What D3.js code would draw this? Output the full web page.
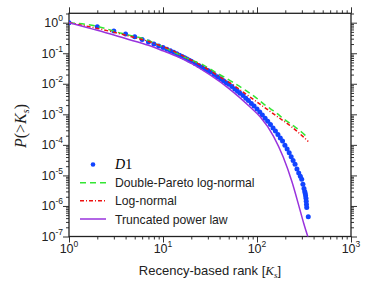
<!DOCTYPE html>
<html>
<head>
<meta charset="utf-8">
<script src="https://cdn.jsdelivr.net/npm/d3@7"></script>
<style>
  body { margin: 0; background: #fff; }
  svg { display: block; font-family: "Liberation Sans", Arial, sans-serif; }
</style>
</head>
<body>
<svg id="chart" width="374" height="299"></svg>
<script>
const d1Rank = [1, 2, 3, 4, 5, 6, 7, 8, 9, 10, 11, 12, 13, 14, 15, 16, 17, 18, 19, 20,
  22, 24, 26, 28, 30, 32, 35, 38, 41, 44, 47, 50, 54, 58, 62, 66, 71, 76, 81, 87, 93,
  100, 107, 114, 122, 130, 139, 148, 157, 167, 177, 187, 198, 209, 220, 231, 242, 254,
  266, 278, 289, 299, 308, 316, 322, 326, 329, 332, 334, 336, 338, 351];
const d1P = [1, 0.74, 0.535, 0.427, 0.348, 0.282, 0.232, 0.2, 0.174, 0.153, 0.1355, 0.12,
  0.107, 0.0955, 0.0861, 0.0785, 0.0711, 0.0649, 0.0594, 0.0547,
  0.0463, 0.0398, 0.0348, 0.0305, 0.0271, 0.0242, 0.0202, 0.017, 0.0146, 0.0126, 0.0109,
  0.0097, 0.00809, 0.00676, 0.00572, 0.00492, 0.0041, 0.00337, 0.00281, 0.00228, 0.00186,
  0.00148, 0.0012, 9.5e-4, 7.4e-4, 5.9e-4, 4.6e-4, 3.6e-4, 2.83e-4, 2.18e-4, 1.68e-4,
  1.33e-4, 9.8e-5, 7.3e-5, 5.5e-5, 4.1e-5, 3.1e-5, 2.3e-5, 1.62e-5, 1.2e-5, 9.3e-6,
  7.5e-6, 5.1e-6, 3.7e-6, 2.96e-6, 2.57e-6, 2.14e-6, 1.79e-6, 1.43e-6, 1.11e-6, 8.9e-7, 4.4e-7];

// fitted models
const dplnRank = [1, 2, 3.6, 6.4, 8.2, 14.5, 20, 27, 34, 44, 58, 75, 95, 122, 155, 200, 253, 324, 338];
const dplnP = [1, 0.76, 0.449, 0.286, 0.211, 0.0942, 0.0598, 0.041, 0.0267, 0.017, 0.0103,
  0.00621, 0.00375, 0.002, 0.00121, 6.46e-4, 3.89e-4, 2.08e-4, 1.83e-4];

const lnRank = [1, 2, 3.76, 7.3, 11.9, 19.4, 31.6, 40.4, 56, 74.5, 99.3, 132, 176, 234, 311, 351];
const lnP = [1, 0.65, 0.41, 0.233, 0.132, 0.0621, 0.0271, 0.0166, 0.00906, 0.00484, 0.00257,
  0.00137, 7.3e-4, 3.89e-4, 1.83e-4, 1.29e-4];

const tplRank = [1, 2, 4, 7, 10, 14, 20, 32, 50, 85, 108, 150, 190, 235, 285, 315, 355];
const tplP = [1, 0.562, 0.302, 0.182, 0.12, 0.0794, 0.0468, 0.0191, 0.00708, 0.0017, 8.3e-4,
  1.91e-4, 3.98e-5, 6.3e-6, 7.9e-7, 2.6e-7, 8e-8];

const xTickExp = [0, 1, 2, 3];
const yTickExp = [0, -1, -2, -3, -4, -5, -6, -7];
const legendLabels = ["D1", "Double-Pareto log-normal", "Log-normal", "Truncated power law"];

const colors = { d1: "#1144ff", dpln: "#33e633", ln: "#ee1111", tpl: "#9933dd" };

const svg = d3.select("#chart");
const plotLeft = 69, plotRight = 351, plotTop = 13.3, plotBottom = 236.5;

const x = d3.scaleLog().domain([1, 1000]).range([plotLeft, plotRight]);
const y = d3.scaleLog().domain([1e-7, 2.03]).range([plotBottom, plotTop]);

const xMajor = xTickExp.map((e) => Math.pow(10, e));
const yMajor = yTickExp.map((e) => Math.pow(10, e));
const minorOf = (majors) => {
  const out = [];
  majors.forEach((m) => { for (let k = 2; k <= 9; k++) out.push(m * k); });
  return out;
};
const xMinor = minorOf(xMajor).filter((v) => v < 1000);
const yMinor = minorOf(yMajor).filter((v) => v < 2.03);

// axes, ticks outward on all four sides
function addAxis(axisFn, scale, values, size, transform) {
  const g = svg.append("g")
    .attr("transform", transform)
    .call(axisFn(scale).tickValues(values).tickSize(size).tickFormat(""));
  g.select(".domain").remove();
  g.selectAll("line").attr("stroke", "#333").attr("stroke-width", 1);
}
[[xMajor, 6], [xMinor, 3]].forEach(([v, s]) => {
  addAxis(d3.axisBottom, x, v, s, `translate(0,${plotBottom})`);
  addAxis(d3.axisTop, x, v, s, `translate(0,${plotTop})`);
});
[[yMajor, 6], [yMinor, 3]].forEach(([v, s]) => {
  addAxis(d3.axisLeft, y, v, s, `translate(${plotLeft},0)`);
  addAxis(d3.axisRight, y, v, s, `translate(${plotRight},0)`);
});

// tick labels with superscripts
const xl = svg.append("g").selectAll("text").data(xTickExp).join("text")
  .attr("x", (e) => x(Math.pow(10, e)))
  .attr("y", 253)
  .attr("text-anchor", "middle")
  .attr("font-size", 12.5)
  .attr("fill", "#222");
xl.append("tspan").text("10");
xl.append("tspan").attr("dy", -6).attr("font-size", 8.5).text((e) => String(e));

const yl = svg.append("g").selectAll("text").data(yTickExp).join("text")
  .attr("x", 63)
  .attr("y", (e) => y(Math.pow(10, e)) + 4.5)
  .attr("text-anchor", "end")
  .attr("font-size", 12.5)
  .attr("fill", "#222");
yl.append("tspan").text("10");
yl.append("tspan").attr("dy", -6).attr("font-size", 8.5).text((e) => String(e));

// frame
svg.append("rect")
  .attr("x", plotLeft).attr("y", plotTop)
  .attr("width", plotRight - plotLeft).attr("height", plotBottom - plotTop)
  .attr("fill", "none").attr("stroke", "#222").attr("stroke-width", 1.3);

// plot
svg.append("clipPath").attr("id", "clip").append("rect")
  .attr("x", plotLeft).attr("y", plotTop)
  .attr("width", plotRight - plotLeft).attr("height", plotBottom - plotTop);
const plot = svg.append("g").attr("clip-path", "url(#clip)");

const d1 = d1Rank.map((k, i) => [k, d1P[i]]);
plot.selectAll("circle.d1").data(d1).join("circle")
  .attr("class", "d1")
  .attr("cx", (d) => x(d[0]))
  .attr("cy", (d) => y(d[1]))
  .attr("r", 2.5)
  .attr("fill", colors.d1);

const line = d3.line().x((d) => x(d[0])).y((d) => y(d[1])).curve(d3.curveMonotoneX);

function drawLine(ranks, vals, color, dash) {
  plot.append("path")
    .datum(ranks.map((k, i) => [k, vals[i]]))
    .attr("fill", "none")
    .attr("stroke", color)
    .attr("stroke-width", 1.5)
    .attr("stroke-dasharray", dash)
    .attr("d", line);
}
drawLine(dplnRank, dplnP, colors.dpln, "6,4");
drawLine(lnRank, lnP, colors.ln, "4,2,1,2");
drawLine(tplRank, tplP, colors.tpl, null);

// legend
const legY = [164.5, 182.7, 200.7, 219];
const leg = svg.append("g");
leg.append("circle").attr("cx", 93).attr("cy", legY[0]).attr("r", 2.3).attr("fill", colors.d1);
[[colors.dpln, "6,4"], [colors.ln, "4,2,1,2"], [colors.tpl, null]].forEach(([c, dash], i) => {
  leg.append("line")
    .attr("x1", 80).attr("x2", 106)
    .attr("y1", legY[i + 1]).attr("y2", legY[i + 1])
    .attr("stroke", c).attr("stroke-width", 1.5)
    .attr("stroke-dasharray", dash);
});
const d1Text = leg.append("text").attr("x", 115).attr("y", legY[0] + 4.5)
  .attr("font-family", "'Liberation Serif', 'DejaVu Serif', serif").attr("font-size", 14);
d1Text.append("tspan").attr("font-style", "italic").text(legendLabels[0].slice(0, 1));
d1Text.append("tspan").text(legendLabels[0].slice(1));
legendLabels.slice(1).forEach((t, i) => {
  leg.append("text").attr("x", 115).attr("y", legY[i + 1] + 4.5)
    .attr("font-size", 12.2).attr("fill", "#222").text(t);
});

// axis titles
const xt = svg.append("text").attr("x", 210).attr("y", 275)
  .attr("text-anchor", "middle").attr("font-size", 13).attr("fill", "#222");
xt.append("tspan").text("Recency-based rank [");
xt.append("tspan").attr("font-family", "'Liberation Serif', serif").attr("font-style", "italic").text("K");
xt.append("tspan").attr("font-family", "'Liberation Serif', serif").attr("font-style", "italic")
  .attr("font-size", 9).attr("dy", 3).text("s");
xt.append("tspan").attr("dy", -3).text("]");

const yt = svg.append("text")
  .attr("transform", "translate(26,126) rotate(-90)")
  .attr("text-anchor", "middle")
  .attr("font-family", "'Liberation Serif', 'DejaVu Serif', serif")
  .attr("font-size", 16).attr("fill", "#222");
yt.append("tspan").attr("font-style", "italic").text("P");
yt.append("tspan").text("(>");
yt.append("tspan").attr("font-style", "italic").text("K");
yt.append("tspan").attr("font-style", "italic").attr("font-size", 10).attr("dy", 3).text("s");
yt.append("tspan").attr("dy", -3).text(")");
</script>
</body>
</html>
